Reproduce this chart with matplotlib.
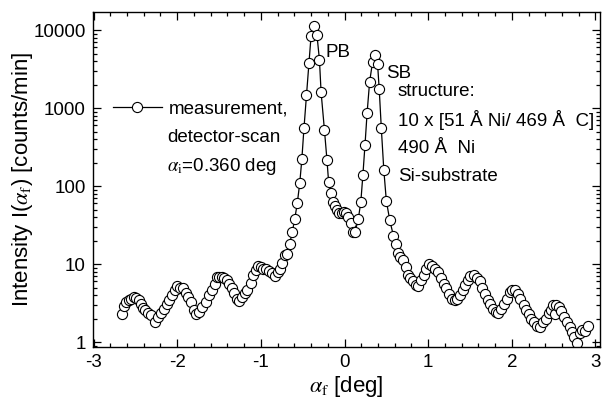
import matplotlib.pyplot as plt
from matplotlib.ticker import MultipleLocator, LogLocator, NullFormatter, FixedLocator, FormatStrFormatter

plt.rcParams['font.family'] = ['Liberation Sans', 'DejaVu Sans']
plt.rcParams['mathtext.fontset'] = 'stix'
plt.rcParams['axes.unicode_minus'] = False

# detector scan, alpha_f [deg]
alpha_f = [-2.66, -2.64, -2.615, -2.58, -2.55, -2.52, -2.49, -2.455, -2.43, -2.405,
           -2.38, -2.345, -2.31, -2.265, -2.225, -2.19, -2.16, -2.125, -2.095, -2.06,
           -2.03, -2.0, -1.97, -1.93, -1.90, -1.87, -1.835, -1.795, -1.77, -1.74,
           -1.70, -1.66, -1.62, -1.58, -1.55, -1.53, -1.50, -1.47, -1.44, -1.41,
           -1.38, -1.35, -1.32, -1.29, -1.26, -1.22, -1.19, -1.16, -1.12, -1.09,
           -1.06, -1.03, -1.00, -0.97, -0.94, -0.90, -0.87, -0.83, -0.80, -0.77,
           -0.745, -0.715, -0.69, -0.655, -0.625, -0.595, -0.565, -0.535, -0.51, -0.485,
           -0.455, -0.425, -0.40, -0.36, -0.33, -0.30, -0.28, -0.24, -0.21, -0.19,
           -0.165, -0.135, -0.115, -0.095, -0.065, -0.035, -0.01, 0.02, 0.045, 0.075,
           0.10, 0.125, 0.165, 0.195, 0.22, 0.245, 0.27, 0.30, 0.335, 0.365,
           0.395, 0.415, 0.44, 0.47, 0.50, 0.54, 0.585, 0.615, 0.635, 0.665,
           0.695, 0.73, 0.76, 0.785, 0.82, 0.85, 0.88, 0.915, 0.945, 0.975,
           1.015, 1.045, 1.08, 1.115, 1.155, 1.185, 1.215, 1.25, 1.285, 1.315,
           1.35, 1.385, 1.415, 1.445, 1.475, 1.505, 1.545, 1.585, 1.615, 1.645,
           1.675, 1.71, 1.74, 1.775, 1.805, 1.835, 1.87, 1.905, 1.945, 1.975,
           2.005, 2.035, 2.07, 2.10, 2.14, 2.175, 2.205, 2.235, 2.27, 2.30,
           2.335, 2.375, 2.41, 2.445, 2.47, 2.49, 2.52, 2.53, 2.56, 2.59,
           2.62, 2.655, 2.69, 2.72, 2.745, 2.775, 2.81, 2.84, 2.87, 2.91]

# intensity [counts/min]
intensity = [2.3, 2.9, 3.3, 3.45, 3.6, 3.8, 3.7, 3.5, 3.1, 2.75,
             2.6, 2.4, 2.2, 1.8, 2.1, 2.35, 2.7, 3.1, 3.5, 4.0,
             4.6, 5.2, 5.0, 4.9, 4.3, 3.8, 3.3, 2.6, 2.3, 2.45,
             2.8, 3.3, 4.0, 4.7, 5.6, 6.9, 6.9, 6.8, 6.6, 6.2,
             5.6, 4.9, 4.3, 3.6, 3.4, 3.8, 4.3, 4.7, 5.8, 7.2,
             8.5, 9.4, 9.3, 8.8, 8.6, 8.1, 7.7, 7.0, 8.0, 8.8,
             10.4, 13.0, 13.5, 18.4, 25.7, 38, 60, 110, 222, 550,
             1470, 3800, 8400, 11200, 8800, 4200, 1600, 525, 218, 113,
             81, 62, 55, 50, 45, 45, 46, 45, 40, 34,
             26, 25.5, 38, 63, 141, 340, 870, 2170, 3900, 4750,
             3700, 1740, 550, 160, 65, 37, 23, 18, 13.8, 12.4,
             11.2, 9.3, 7.2, 6.6, 6.0, 5.4, 5.2, 6.2, 7.2, 8.8,
             10.0, 9.5, 8.8, 8.0, 6.7, 5.6, 4.9, 4.2, 3.6, 3.45,
             3.6, 4.0, 4.6, 5.4, 6.2, 7.0, 7.2, 6.7, 6.0, 5.0,
             4.2, 3.5, 3.1, 2.7, 2.45, 2.35, 2.7, 3.1, 3.6, 4.4,
             4.7, 4.6, 4.2, 3.6, 3.0, 2.6, 2.3, 2.0, 1.8, 1.6,
             1.57, 1.8, 2.0, 2.35, 2.6, 3.0, 2.3, 3.0, 2.8, 2.5,
             2.1, 1.8, 1.57, 1.35, 1.17, 0.98, 1.3, 1.45, 1.4, 1.6]

structure_lines = ["structure:", "10 x [51 Å Ni/ 469 Å  C]", "490 Å  Ni", "Si-substrate"]
fs = 13.5

fig = plt.figure(figsize=(6.1, 4.07), dpi=100)
ax = fig.add_axes([0.152, 0.147, 0.832, 0.823])

ax.plot(alpha_f, intensity, color='black', linewidth=0.9, marker='o', markersize=7.3,
        markerfacecolor='white', markeredgecolor='black', markeredgewidth=0.8,
        label='measurement,')

ax.set_yscale('log')
ax.set_xlim(-3.01, 3.057)
ax.set_ylim(0.863, 17000)

ax.xaxis.set_major_locator(MultipleLocator(1))
ax.xaxis.set_minor_locator(MultipleLocator(0.2))
ax.xaxis.set_major_formatter(FormatStrFormatter('%d'))
ax.yaxis.set_major_locator(FixedLocator([1, 10, 100, 1000, 10000]))
ax.yaxis.set_major_formatter(FormatStrFormatter('%d'))
ax.yaxis.set_minor_locator(LogLocator(base=10, subs=range(2, 10)))
ax.yaxis.set_minor_formatter(NullFormatter())

ax.tick_params(which='both', direction='in', top=True, right=True, labelsize=fs, width=0.9)
ax.tick_params(which='major', length=5.5, pad=5)
ax.tick_params(which='minor', length=3)
for s in ax.spines.values():
    s.set_linewidth(1.0)

ax.set_xlabel(r'$\alpha_\mathrm{f}$ [deg]', fontsize=16, labelpad=2)
ax.set_ylabel(r'Intensity I($\alpha_\mathrm{f}$) [counts/min]', fontsize=16, labelpad=-1)

# legend + measurement info
ax.legend(loc='upper left', bbox_to_anchor=(0.04, 0.738), frameon=False, fontsize=fs,
          handlelength=2.6, handletextpad=0.4, borderpad=0, borderaxespad=0)
ax.text(0.147, 0.627, 'detector-scan', transform=ax.transAxes, fontsize=fs, va='center')
ax.text(0.147, 0.540, r'$\alpha_\mathrm{i}$=0.360 deg', transform=ax.transAxes, fontsize=fs, va='center')

ax.text(0.459, 0.880, 'PB', transform=ax.transAxes, fontsize=fs, va='center')
ax.text(0.578, 0.816, 'SB', transform=ax.transAxes, fontsize=fs, va='center')

for i, line in enumerate(structure_lines):
    ax.text(0.601, 0.764 - i * 0.0847, line, transform=ax.transAxes, fontsize=fs, va='center')

fig.savefig('out.png', dpi=100)
